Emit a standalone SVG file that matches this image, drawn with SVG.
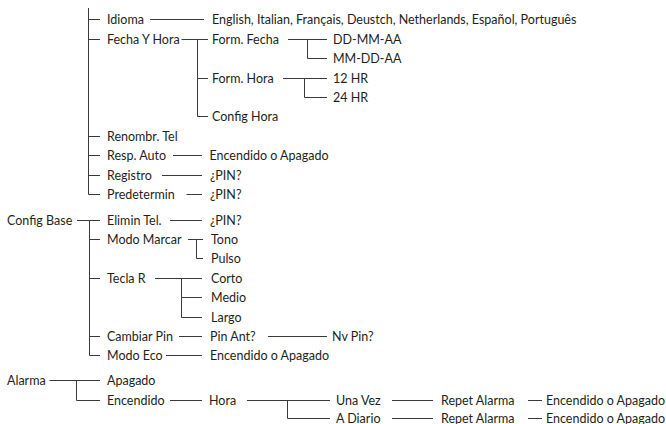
<svg xmlns="http://www.w3.org/2000/svg" width="666" height="424" viewBox="0 0 666 424">
<style>
.t{font-family:Lato,"Liberation Sans",sans-serif;font-size:12.5px;fill:#231f20}
.c{fill:none;stroke:#3a3a3a;stroke-width:1}
</style>
<rect width="666" height="424" fill="#fff"/>
<g id="connectors" class="c">
<path d="M88.5 8V194.5H100"/>
<path d="M88.5 19.5H100M150 19.5H204"/>
<path d="M88.5 39.5H100M181.5 39.5H208M197.5 39.5V116.5H208M197.5 78.5H208"/>
<path d="M288 39.5H327M307.5 39.5V58.5H327"/>
<path d="M283 78.5H327M304.5 78.5V97.5H327"/>
<path d="M88.5 136.5H100M88.5 155.5H100M88.5 175.5H100"/>
<path d="M173 155.5H202M162 175.5H202M186.5 194.5H202"/>
<path d="M77 220.5H100M89.5 220.5V355.5H100M89.5 239.5H100M89.5 278.5H100M89.5 336.5H100"/>
<path d="M170 220.5H202"/>
<path d="M188 239.5H203M196.5 239.5V258.5H203"/>
<path d="M155 278.5H202M181.5 278.5V317.5H202M181.5 297.5H202"/>
<path d="M179 336.5H202M268 336.5H327M166 355.5H202"/>
<path d="M49.5 380.5H100M76.5 380.5V400.5H100"/>
<path d="M170 400.5H202M247 400.5H330M287.5 400.5V418.5H330"/>
<path d="M392 400.5H433M392 418.5H433M528 400.5H542M528 418.5H542"/>
</g>
<g id="idioma"><text class="t" x="107" y="23.5">Idioma</text></g>
<g id="idiomas"><text class="t" x="212" y="23.5">English, Italian, Français, Deustch, Netherlands, Español, Português</text></g>
<g id="fecha-y-hora"><text class="t" x="107" y="43.5">Fecha Y Hora</text></g>
<g id="form-fecha"><text class="t" x="212" y="43.5">Form. Fecha</text></g>
<g id="dd-mm-aa"><text class="t" x="333" y="43.5">DD-MM-AA</text></g>
<g id="mm-dd-aa"><text class="t" x="333" y="62.5">MM-DD-AA</text></g>
<g id="form-hora"><text class="t" x="212" y="82.5">Form. Hora</text></g>
<g id="hr12"><text class="t" x="333" y="82.5">12 HR</text></g>
<g id="hr24"><text class="t" x="333" y="101.5">24 HR</text></g>
<g id="config-hora"><text class="t" x="212" y="120.5">Config Hora</text></g>
<g id="renombr"><text class="t" x="107" y="140.5">Renombr. Tel</text></g>
<g id="resp-auto"><text class="t" x="107" y="159.5">Resp. Auto</text></g>
<g id="resp-auto-val"><text class="t" x="209.5" y="159.5">Encendido o Apagado</text></g>
<g id="registro"><text class="t" x="107" y="179.5">Registro</text></g>
<g id="registro-pin"><text class="t" x="210" y="179.5">¿PIN?</text></g>
<g id="predetermin"><text class="t" x="107" y="198.5">Predetermin</text></g>
<g id="predetermin-pin"><text class="t" x="210" y="198.5">¿PIN?</text></g>
<g id="config-base"><text class="t" x="7" y="224.5">Config Base</text></g>
<g id="elimin-tel"><text class="t" x="107" y="224.5">Elimin Tel.</text></g>
<g id="elimin-pin"><text class="t" x="210" y="224.5">¿PIN?</text></g>
<g id="modo-marcar"><text class="t" x="107" y="243.5">Modo Marcar</text></g>
<g id="tono"><text class="t" x="211" y="243.5">Tono</text></g>
<g id="pulso"><text class="t" x="211" y="262.5">Pulso</text></g>
<g id="tecla-r"><text class="t" x="107" y="282.5">Tecla R</text></g>
<g id="corto"><text class="t" x="211" y="282.5">Corto</text></g>
<g id="medio"><text class="t" x="211" y="301.5">Medio</text></g>
<g id="largo"><text class="t" x="211" y="321.5">Largo</text></g>
<g id="cambiar-pin"><text class="t" x="107" y="340.5">Cambiar Pin</text></g>
<g id="pin-ant"><text class="t" x="210" y="340.5">Pin Ant?</text></g>
<g id="nv-pin"><text class="t" x="332" y="340.5">Nv Pin?</text></g>
<g id="modo-eco"><text class="t" x="107" y="359.5">Modo Eco</text></g>
<g id="modo-eco-val"><text class="t" x="210" y="359.5">Encendido o Apagado</text></g>
<g id="alarma"><text class="t" x="7" y="384.5">Alarma</text></g>
<g id="apagado"><text class="t" x="107" y="384.5">Apagado</text></g>
<g id="encendido"><text class="t" x="107" y="404.5">Encendido</text></g>
<g id="hora"><text class="t" x="209" y="404.5">Hora</text></g>
<g id="una-vez"><text class="t" x="336" y="404.5">Una Vez</text></g>
<g id="a-diario"><text class="t" x="336" y="422.5">A Diario</text></g>
<g id="repet-1"><text class="t" x="441" y="404.5">Repet Alarma</text></g>
<g id="repet-2"><text class="t" x="441" y="422.5">Repet Alarma</text></g>
<g id="val-1"><text class="t" x="546" y="404.5">Encendido o Apagado</text></g>
<g id="val-2"><text class="t" x="546" y="422.5">Encendido o Apagado</text></g>
</svg>
